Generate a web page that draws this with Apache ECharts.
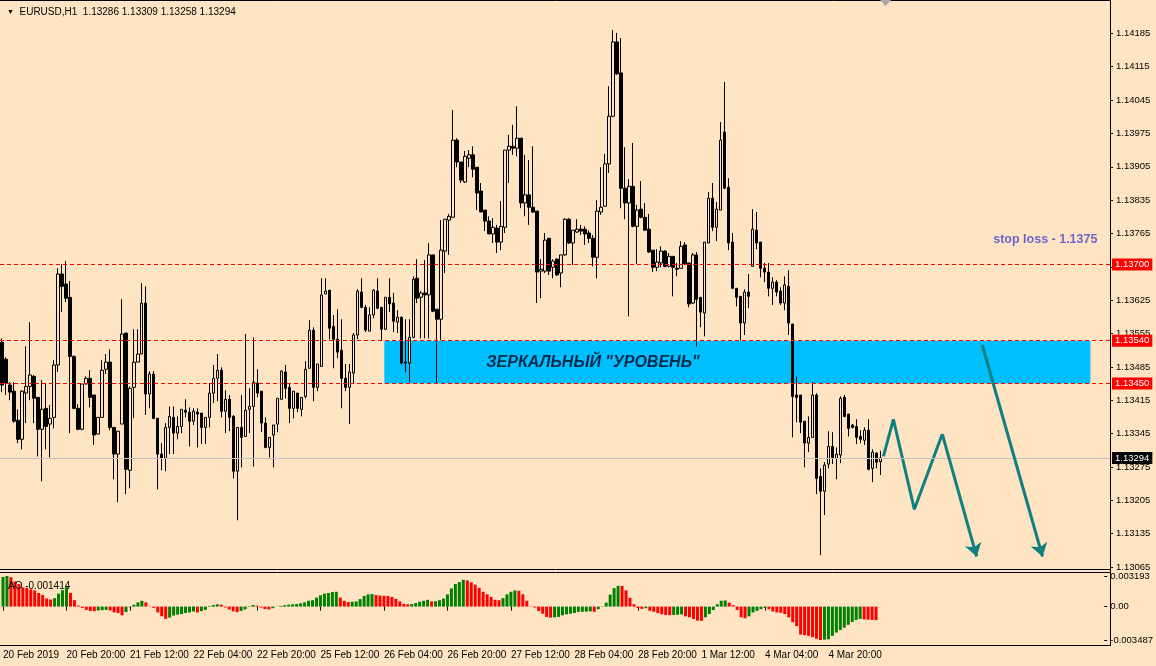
<!DOCTYPE html>
<html><head><meta charset="utf-8">
<script src="https://cdn.jsdelivr.net/npm/echarts@6/dist/echarts.min.js"></script>
<style>html,body{margin:0;padding:0;background:#FFE4C4;}#c{width:1156px;height:666px;}</style>
</head><body><div id="c"></div>
<script>
const symbolName = 'EURUSD,H1';
const openP = [1.13537,1.13501,1.13447,1.13434,1.13373,1.13333,1.13430,1.13444,1.13465,1.13421,
1.13354,1.13398,1.13365,1.13379,1.13489,1.13680,1.13659,1.13631,1.13507,1.13398,
1.13354,1.13449,1.13461,1.13426,1.13344,1.13379,1.13480,1.13495,1.13358,1.13302,
1.13365,1.13556,1.13268,1.13442,1.13495,1.13512,1.13619,1.13428,1.13470,1.13377,
1.13302,1.13293,1.13358,1.13379,1.13346,1.13360,1.13394,1.13390,1.13371,1.13390,
1.13388,1.13358,1.13379,1.13430,1.13461,1.13478,1.13392,1.13417,1.13381,1.13266,
1.13358,1.13339,1.13396,1.13402,1.13451,1.13434,1.13367,1.13316,1.13342,1.13365,
1.13417,1.13474,1.13442,1.13398,1.13430,1.13396,1.13423,1.13482,1.13562,1.13442,
1.13486,1.13638,1.13646,1.13570,1.13543,1.13520,1.13461,1.13442,1.13472,1.13552,
1.13642,1.13610,1.13560,1.13594,1.13644,1.13610,1.13564,1.13631,1.13619,1.13579,
1.13589,1.13495,1.13493,1.13547,1.13671,1.13631,1.13640,1.13636,1.13720,1.13606,
1.13585,1.13728,1.13793,1.13799,1.13961,1.13915,1.13873,1.13923,1.13930,1.13904,
1.13854,1.13814,1.13791,1.13764,1.13776,1.13747,1.13778,1.13940,1.13948,1.13944,
1.13965,1.13829,1.13846,1.13820,1.13812,1.13686,1.13686,1.13755,1.13694,1.13711,
1.13682,1.13720,1.13795,1.13745,1.13768,1.13774,1.13774,1.13766,1.13755,1.13715,
1.13810,1.13822,1.13911,1.14011,1.14167,1.14102,1.13860,1.13829,1.13864,1.13780,
1.13816,1.13799,1.13774,1.13730,1.13694,1.13703,1.13728,1.13696,1.13717,1.13692,
1.13692,1.13741,1.13703,1.13619,1.13720,1.13631,1.13598,1.13745,1.13839,1.13778,
1.13814,1.13978,1.13862,1.13747,1.13650,1.13633,1.13577,1.13642,1.13696,1.13772,
1.13747,1.13692,1.13684,1.13650,1.13663,1.13644,1.13619,1.13654,1.13575,1.13426,
1.13426,1.13371,1.13325,1.13337,1.13426,1.13255,1.13224,1.13281,1.13318,1.13293,
1.13300,1.13421,1.13386,1.13363,1.13360,1.13339,1.13331,1.13352,1.13272,1.13304,
1.13286];
const highP = [1.13545,1.13505,1.13453,1.13453,1.13396,1.13436,1.13528,1.13579,1.13468,1.13421,
1.13457,1.13451,1.13405,1.13499,1.13692,1.13701,1.13707,1.13665,1.13509,1.13407,
1.13449,1.13465,1.13478,1.13426,1.13379,1.13499,1.13512,1.13522,1.13358,1.13350,
1.13627,1.13556,1.13444,1.13564,1.13564,1.13661,1.13654,1.13476,1.13476,1.13377,
1.13325,1.13367,1.13402,1.13402,1.13381,1.13396,1.13417,1.13400,1.13398,1.13398,
1.13388,1.13379,1.13451,1.13489,1.13512,1.13484,1.13436,1.13426,1.13384,1.13358,
1.13426,1.13554,1.13440,1.13547,1.13480,1.13434,1.13379,1.13337,1.13363,1.13419,
1.13478,1.13489,1.13449,1.13434,1.13430,1.13421,1.13497,1.13583,1.13568,1.13491,
1.13671,1.13671,1.13646,1.13594,1.13606,1.13585,1.13491,1.13491,1.13556,1.13648,
1.13671,1.13615,1.13610,1.13648,1.13671,1.13610,1.13631,1.13671,1.13640,1.13604,
1.13591,1.13585,1.13585,1.13675,1.13711,1.13644,1.13709,1.13745,1.13720,1.13606,
1.13793,1.13795,1.13806,1.14024,1.13965,1.13915,1.13938,1.13940,1.13948,1.13904,
1.13871,1.13814,1.13801,1.13797,1.13783,1.13833,1.13940,1.13972,1.13993,1.14032,
1.13965,1.13930,1.13919,1.13948,1.13812,1.13711,1.13766,1.13755,1.13711,1.13713,
1.13720,1.13797,1.13797,1.13772,1.13795,1.13783,1.13780,1.13772,1.13762,1.13835,
1.13904,1.13932,1.14074,1.14192,1.14186,1.14175,1.13946,1.13879,1.13955,1.13825,
1.13875,1.13829,1.13806,1.13730,1.13732,1.13738,1.13730,1.13724,1.13717,1.13703,
1.13749,1.13747,1.13703,1.13724,1.13726,1.13631,1.13747,1.13852,1.13871,1.13831,
1.13999,1.14083,1.13881,1.13766,1.13650,1.13633,1.13648,1.13680,1.13816,1.13810,
1.13747,1.13703,1.13703,1.13673,1.13667,1.13652,1.13675,1.13688,1.13575,1.13465,
1.13426,1.13371,1.13381,1.13453,1.13430,1.13272,1.13285,1.13350,1.13348,1.13316,
1.13423,1.13426,1.13386,1.13365,1.13375,1.13352,1.13358,1.13375,1.13312,1.13306,
1.13309];
const lowP = [1.13432,1.13426,1.13415,1.13368,1.13325,1.13312,1.13367,1.13415,1.13367,1.13297,
1.13245,1.13312,1.13295,1.13356,1.13474,1.13600,1.13621,1.13346,1.13396,1.13352,
1.13352,1.13449,1.13400,1.13321,1.13344,1.13379,1.13470,1.13352,1.13249,1.13201,
1.13365,1.13218,1.13230,1.13377,1.13495,1.13512,1.13384,1.13398,1.13375,1.13228,
1.13268,1.13266,1.13302,1.13302,1.13333,1.13346,1.13379,1.13318,1.13363,1.13316,
1.13323,1.13323,1.13358,1.13409,1.13413,1.13379,1.13346,1.13350,1.13251,1.13163,
1.13274,1.13339,1.13346,1.13276,1.13421,1.13348,1.13314,1.13295,1.13274,1.13348,
1.13417,1.13419,1.13367,1.13377,1.13390,1.13381,1.13419,1.13482,1.13413,1.13434,
1.13486,1.13638,1.13543,1.13482,1.13503,1.13398,1.13434,1.13365,1.13451,1.13543,
1.13608,1.13558,1.13560,1.13587,1.13606,1.13539,1.13562,1.13600,1.13558,1.13556,
1.13490,1.13474,1.13453,1.13545,1.13619,1.13545,1.13545,1.13545,1.13600,1.13451,
1.13541,1.13682,1.13720,1.13799,1.13904,1.13871,1.13871,1.13904,1.13883,1.13814,
1.13810,1.13770,1.13764,1.13745,1.13724,1.13730,1.13766,1.13871,1.13930,1.13927,
1.13818,1.13801,1.13783,1.13808,1.13619,1.13629,1.13682,1.13678,1.13671,1.13676,
1.13652,1.13718,1.13743,1.13699,1.13766,1.13762,1.13741,1.13745,1.13696,1.13671,
1.13804,1.13822,1.13892,1.14009,1.14098,1.13818,1.13795,1.13591,1.13778,1.13701,
1.13797,1.13770,1.13724,1.13684,1.13686,1.13694,1.13694,1.13694,1.13633,1.13675,
1.13692,1.13699,1.13610,1.13617,1.13528,1.13568,1.13549,1.13745,1.13770,1.13749,
1.13814,1.13858,1.13730,1.13648,1.13612,1.13541,1.13552,1.13608,1.13696,1.13732,
1.13673,1.13663,1.13633,1.13615,1.13633,1.13615,1.13604,1.13552,1.13337,1.13369,
1.13346,1.13274,1.13306,1.13337,1.13218,1.13090,1.13174,1.13272,1.13281,1.13249,
1.13283,1.13379,1.13339,1.13356,1.13323,1.13325,1.13321,1.13268,1.13243,1.13272,
1.13258];
const closeP = [1.13447,1.13451,1.13432,1.13371,1.13333,1.13434,1.13444,1.13468,1.13419,1.13354,
1.13396,1.13360,1.13377,1.13489,1.13680,1.13654,1.13629,1.13507,1.13398,1.13354,
1.13449,1.13461,1.13421,1.13342,1.13379,1.13478,1.13495,1.13358,1.13302,1.13350,
1.13554,1.13270,1.13440,1.13495,1.13512,1.13619,1.13428,1.13470,1.13377,1.13302,
1.13293,1.13358,1.13381,1.13346,1.13360,1.13396,1.13390,1.13371,1.13392,1.13386,
1.13358,1.13379,1.13430,1.13461,1.13478,1.13392,1.13417,1.13379,1.13266,1.13358,
1.13337,1.13394,1.13402,1.13453,1.13430,1.13367,1.13316,1.13337,1.13363,1.13419,
1.13476,1.13440,1.13398,1.13434,1.13398,1.13421,1.13480,1.13562,1.13442,1.13491,
1.13636,1.13644,1.13566,1.13543,1.13516,1.13461,1.13442,1.13474,1.13552,1.13644,
1.13610,1.13562,1.13594,1.13646,1.13608,1.13564,1.13631,1.13617,1.13581,1.13589,
1.13493,1.13493,1.13547,1.13669,1.13629,1.13640,1.13636,1.13720,1.13602,1.13585,
1.13730,1.13795,1.13801,1.13961,1.13915,1.13877,1.13927,1.13930,1.13900,1.13850,
1.13810,1.13791,1.13764,1.13778,1.13747,1.13780,1.13940,1.13948,1.13944,1.13965,
1.13829,1.13846,1.13820,1.13810,1.13684,1.13690,1.13751,1.13686,1.13707,1.13678,
1.13720,1.13795,1.13745,1.13772,1.13774,1.13770,1.13764,1.13755,1.13715,1.13812,
1.13820,1.13911,1.14011,1.14167,1.14100,1.13860,1.13829,1.13864,1.13780,1.13814,
1.13799,1.13772,1.13726,1.13694,1.13705,1.13728,1.13696,1.13717,1.13694,1.13690,
1.13738,1.13701,1.13617,1.13720,1.13627,1.13600,1.13747,1.13839,1.13778,1.13816,
1.13961,1.13860,1.13745,1.13650,1.13631,1.13577,1.13642,1.13633,1.13774,1.13745,
1.13692,1.13684,1.13650,1.13663,1.13642,1.13619,1.13657,1.13577,1.13423,1.13421,
1.13369,1.13325,1.13337,1.13426,1.13251,1.13224,1.13279,1.13318,1.13295,1.13302,
1.13419,1.13381,1.13356,1.13358,1.13337,1.13333,1.13352,1.13270,1.13306,1.13285,
1.13294];
const aoValues = [0.00310,0.003193,0.00306,0.00263,0.00236,0.00202,0.00195,0.00179,0.00169,0.00142,
0.00121,0.00084,0.00074,0.00088,0.00135,0.00172,0.00202,0.00142,0.00067,0.00010,
-0.00013,-0.00034,-0.00047,-0.00048,-0.00040,-0.00037,-0.00034,-0.00040,-0.00061,-0.00067,
-0.00091,-0.00057,-0.00007,0.00020,0.00044,0.00061,0.00044,0.00003,-0.00013,-0.00061,
-0.00101,-0.00128,-0.00115,-0.00094,-0.00084,-0.00078,-0.00067,-0.00061,-0.00051,-0.00061,
-0.00047,-0.00034,0.00007,0.00017,0.00024,0.00020,-0.00010,-0.00030,-0.00050,-0.00058,
-0.00045,-0.00030,0.00005,0.00017,0.00010,-0.00010,-0.00025,-0.00030,-0.00017,0.00002,
0.00008,0.00015,0.00020,0.00024,0.00027,0.00034,0.00044,0.00061,0.00067,0.00094,
0.00118,0.00135,0.00142,0.00152,0.00155,0.00094,0.00061,0.00047,0.00050,0.00054,
0.00078,0.00111,0.00128,0.00130,0.00121,0.00115,0.00113,0.00111,0.00101,0.00081,
0.00054,0.00027,0.00024,0.00027,0.00037,0.00051,0.00061,0.00071,0.00054,0.00056,
0.00067,0.00084,0.00128,0.00189,0.00236,0.00256,0.00280,0.00273,0.00253,0.00229,
0.00195,0.00155,0.00128,0.00101,0.00071,0.00067,0.00088,0.00128,0.00155,0.00169,
0.00165,0.00128,0.00061,0.00003,-0.00010,-0.00047,-0.00074,-0.00108,-0.00115,-0.00113,
-0.00108,-0.00091,-0.00081,-0.00074,-0.00067,-0.00055,-0.00054,-0.00053,-0.00050,-0.00054,
-0.00027,-0.00003,0.00041,0.00125,0.00193,0.00217,0.00215,0.00170,0.00092,0.00024,
-0.00014,-0.00024,-0.00017,-0.00044,-0.00054,-0.00068,-0.00081,-0.00088,-0.00090,-0.00087,
-0.00085,-0.00082,-0.00102,-0.00112,-0.00129,-0.00146,-0.00149,-0.00112,-0.00078,-0.00037,
0.00024,0.00061,0.00064,0.00041,0.00014,-0.00034,-0.00112,-0.00122,-0.00102,-0.00061,
-0.00044,-0.00027,-0.00014,-0.00027,-0.00051,-0.00061,-0.00064,-0.00078,-0.00112,-0.00163,
-0.00203,-0.00292,-0.00298,-0.00305,-0.00319,-0.00336,-0.003487,-0.00345,-0.00342,-0.00305,
-0.00271,-0.00244,-0.00220,-0.00190,-0.00160,-0.00140,-0.00128,-0.00133,-0.00137,-0.00139,
-0.001414];

// horizontal levels and annotations (bar index, price)
const redLevels = [1.13700, 1.13540, 1.13450];
const bidLevel = 1.13294;
const zoneBars = [95.75, 272.6];
const zonePrices = [1.13540, 1.13450];
const zoneText = 'ЗЕРКАЛЬНЫЙ "УРОВЕНЬ"';
const zoneTextAt = [148, 1.13495];
const stopText = 'stop loss - 1.1375';
const stopTextAt = [261.3, 1.13753];
const arrowPath1 = [[220.75,1.13297],[223.25,1.13375],[228.5,1.13186],[235.5,1.13344],[244.1,1.13087]];
const arrowPath2 = [[245.5,1.13531],[260.6,1.13087]];

// axis ticks
const priceAxisMin = 1.13065, priceAxisStep = 0.0007, priceAxisSteps = 17;
const aoAxisMin = -0.003487, aoAxisMax = 0.003193;
const MONTHS = ['Jan','Feb','Mar','Apr','May','Jun','Jul','Aug','Sep','Oct','Nov','Dec'];
const startTime = Date.UTC(2019,1,20,4);
const totalSlots = 278;
const labelEvery = 16;

const times = [];
let t = startTime;
while (times.length < totalSlots) {
  const d = new Date(t);
  const wd = d.getUTCDay();
  if (wd !== 0 && wd !== 6) times.push(t);
  t += 3600000;
}
const pad = n => (n < 10 ? '0' : '') + n;
const cats = times.map((tt, i) => {
  const d = new Date(tt);
  if (i === 0) return d.getUTCDate() + ' ' + MONTHS[d.getUTCMonth()] + ' ' + d.getUTCFullYear();
  return d.getUTCDate() + ' ' + MONTHS[d.getUTCMonth()] + ' ' + pad(d.getUTCHours()) + ':' + pad(d.getUTCMinutes());
});
const lastIdx = openP.length - 1;
const showLabel = (i) => i % labelEvery === 0 && i <= lastIdx;

const FONT = 'Liberation Sans, Arial, sans-serif';
const BG = '#FFE4C4';
const TEAL = '#0f8080';
const fmt5 = v => Number(v).toFixed(5);

const chart = echarts.init(document.getElementById('c'), null, {renderer: 'canvas'});
const candles = openP.map((o, i) => [o, closeP[i], lowP[i], highP[i]]);
const aoData = aoValues.map((v, i) => ({
  value: v,
  itemStyle: {color: (i === 0 || v >= aoValues[i - 1]) ? '#008000' : '#ff0000'}
}));

function arrowSeries(path) {
  return {
    type: 'line', xAxisIndex: 1, yAxisIndex: 0, data: path.slice(0, path.length - 1),
    showSymbol: false, symbol: 'none', silent: true, z: 4,
    lineStyle: {color: TEAL, width: 3},
    markLine: {
      silent: true, symbol: ['none', 'arrow'], symbolSize: 13, animation: false,
      lineStyle: {color: TEAL, width: 3, type: 'solid'},
      label: {show: false},
      data: [[{coord: path[path.length - 2]}, {coord: path[path.length - 1]}]]
    }
  };
}

const option = {
  backgroundColor: BG,
  animation: false,
  textStyle: {fontFamily: FONT},
  title: [
    {left: 2, top: 2, text: '{t|▼}  ' + symbolName + '  ' + fmt5(openP[lastIdx]) + ' ' + fmt5(highP[lastIdx]) + ' ' + fmt5(lowP[lastIdx]) + ' ' + fmt5(closeP[lastIdx]),
     textStyle: {fontSize: 10, fontWeight: 'normal', color: '#000', fontFamily: FONT, rich: {t: {fontSize: 7, color: '#000'}}}},
    {left: 3, top: 576, text: 'AO ' + aoValues[lastIdx].toFixed(6),
     textStyle: {fontSize: 10, fontWeight: 'normal', color: '#000', fontFamily: FONT}}
  ],
  grid: [
    {left: -2, width: 1112, top: 0, height: 567},
    {left: -2, width: 1112, top: 576, height: 64}
  ],
  xAxis: [
    {type: 'category', gridIndex: 0, data: cats, position: 'bottom', show: false, boundaryGap: true},
    {type: 'value', gridIndex: 0, min: -0.5, max: totalSlots - 0.5, position: 'top', show: false},
    {type: 'category', gridIndex: 1, data: cats, position: 'bottom', offset: 5, boundaryGap: true,
     axisLine: {show: false},
     axisTick: {show: true, alignWithLabel: true, interval: (i) => showLabel(i), length: 4, lineStyle: {color: '#000'}},
     axisLabel: {show: true, interval: (i) => showLabel(i), align: 'left', margin: 5, fontSize: 10, color: '#000', fontFamily: FONT},
     splitLine: {show: false}}
  ],
  yAxis: [
    {type: 'value', gridIndex: 0, position: 'left', min: priceAxisMin, max: priceAxisMin + priceAxisStep * priceAxisSteps, show: false, scale: true},
    {type: 'value', gridIndex: 0, position: 'right', min: 0, max: priceAxisSteps, interval: 1,
     axisLine: {show: false},
     axisTick: {show: true, length: 3, lineStyle: {color: '#000'}},
     axisLabel: {show: true, margin: 6, fontSize: 9.5, color: '#000', fontFamily: FONT, showMaxLabel: false,
       formatter: v => (priceAxisMin + v * priceAxisStep).toFixed(5)},
     splitLine: {show: false}},
    {type: 'value', gridIndex: 1, position: 'right', min: aoAxisMin, max: aoAxisMax, interval: -aoAxisMin,
     axisLine: {show: false},
     axisTick: {show: true, length: 3, lineStyle: {color: '#000'}},
     axisLabel: {show: true, margin: 6, fontSize: 9.5, color: '#000', fontFamily: FONT,
       formatter: v => Math.abs(v) < 1e-9 ? '0.00' : v.toFixed(6)},
     splitLine: {show: false}}
  ],
  series: [
    {
      type: 'scatter', xAxisIndex: 1, yAxisIndex: 0, data: [], z: 1, silent: true,
      markArea: {silent: true, itemStyle: {color: '#00BFFF', opacity: 1},
        data: [[{coord: [zoneBars[0], zonePrices[0]]}, {coord: [zoneBars[1], zonePrices[1]]}]]}
    },
    {
      type: 'candlestick', xAxisIndex: 0, yAxisIndex: 0, data: candles, barWidth: 3, z: 2, silent: true,
      itemStyle: {color: BG, color0: '#000', borderColor: '#000', borderColor0: '#000', borderWidth: 1},
      markLine: {
        silent: true, symbol: ['none', 'none'], animation: false, precision: 5,
        label: {show: true, position: 'end', distance: 2, fontSize: 9.5, fontFamily: FONT, padding: [1, 3, 1, 3],
          formatter: p => fmt5(p.value)},
        data: redLevels.map(p => ({yAxis: p, lineStyle: {color: '#ff0000', type: [4, 3], width: 1},
            label: {backgroundColor: '#ff0000', color: '#fff'}}))
          .concat([{yAxis: bidLevel, lineStyle: {color: '#c0c0c0', type: 'solid', width: 1},
            label: {backgroundColor: '#000', color: '#fff'}}])
      }
    },
    arrowSeries(arrowPath1),
    arrowSeries(arrowPath2),
    {
      type: 'scatter', xAxisIndex: 1, yAxisIndex: 0, symbolSize: 0, z: 6, silent: true,
      data: [{value: zoneTextAt, label: {show: true, position: 'inside', formatter: zoneText,
        fontSize: 16, fontWeight: 'bold', fontStyle: 'italic', color: '#05051e', fontFamily: FONT}},
        {value: stopTextAt, label: {show: true, position: 'inside', formatter: stopText,
        fontSize: 12.5, fontWeight: 'bold', color: '#4646d2', fontFamily: FONT}}]
    },
    {
      type: 'bar', xAxisIndex: 2, yAxisIndex: 2, data: aoData, barWidth: 3, silent: true
    }
  ],
  graphic: [
    {type: 'line', z: 100, silent: true, shape: {x1: 0, y1: 0.5, x2: 1111, y2: 0.5}, style: {stroke: '#000', lineWidth: 1}},
    {type: 'line', z: 100, silent: true, shape: {x1: 1110.5, y1: 0, x2: 1110.5, y2: 646}, style: {stroke: '#000', lineWidth: 1}},
    {type: 'line', z: 100, silent: true, shape: {x1: 0, y1: 569.5, x2: 1111, y2: 569.5}, style: {stroke: '#000', lineWidth: 1}},
    {type: 'line', z: 100, silent: true, shape: {x1: 0, y1: 572.5, x2: 1111, y2: 572.5}, style: {stroke: '#000', lineWidth: 1}},
    {type: 'line', z: 100, silent: true, shape: {x1: 0, y1: 645.5, x2: 1111, y2: 645.5}, style: {stroke: '#000', lineWidth: 1}},
    {type: 'polygon', z: 100, silent: true, shape: {points: [[880, 0], [891, 0], [885.5, 6]]}, style: {fill: '#a8a8a8'}}
  ]
};
chart.setOption(option);
</script>
</body></html>
